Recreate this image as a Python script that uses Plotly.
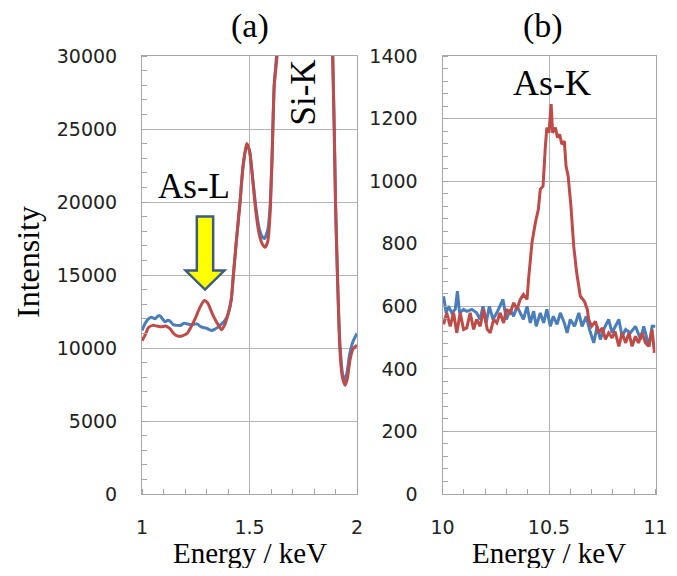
import plotly.graph_objects as go

# ---------------- data: panel (a) ----------------
red_a_x = [1.000, 1.015, 1.030, 1.050, 1.070, 1.090, 1.110, 1.130, 1.150, 1.170,
           1.190, 1.210, 1.230, 1.250, 1.270, 1.290, 1.305, 1.320, 1.335, 1.350,
           1.370, 1.385, 1.400, 1.415, 1.425, 1.440, 1.456, 1.470, 1.487, 1.500,
           1.515, 1.530, 1.545, 1.560, 1.572, 1.585, 1.595, 1.605, 1.615, 1.628,
           1.640, 1.700, 1.740, 1.800, 1.860, 1.887, 1.900, 1.909, 1.920, 1.932,
           1.945, 1.955, 1.967, 1.980, 2.000]
red_a_y = [10500, 10900, 11400, 11550, 11500, 11450, 11500, 11330, 10950, 10800,
           10850, 11000, 11500, 12100, 12800, 13250, 13100, 12600, 12100, 11700,
           11250, 11600, 12300, 13300, 15000, 17500, 20000, 22500, 24000, 23500,
           21500, 19300, 17800, 17100, 16900, 17300, 19000, 23000, 28000, 30000,
           36000, 60000, 80000, 60000, 38000, 30000, 20000, 15000, 10000, 8000,
           7450, 7900, 9150, 9900, 10200]

blue_a_x = [1.000, 1.015, 1.030, 1.045, 1.060, 1.075, 1.084, 1.095, 1.107, 1.120,
            1.130, 1.145, 1.161, 1.180, 1.195, 1.210, 1.230, 1.255, 1.275, 1.300,
            1.325, 1.340, 1.355, 1.370, 1.386, 1.400, 1.415, 1.425, 1.440, 1.456,
            1.470, 1.487, 1.500, 1.515, 1.530, 1.545, 1.560, 1.570, 1.585, 1.595,
            1.605, 1.615, 1.628, 1.640, 1.700, 1.740, 1.800, 1.860, 1.887, 1.900,
            1.909, 1.920, 1.932, 1.942, 1.952, 1.965, 1.980, 2.000]
blue_a_y = [11200, 11700, 12000, 12100, 12000, 12200, 12200, 12000, 11800, 11900,
            11850, 11600, 11550, 11550, 11700, 11650, 11600, 11650, 11450, 11350,
            11200, 11300, 11450, 11650, 11900, 12300, 13300, 15000, 17500, 20000,
            22400, 23900, 23500, 21600, 19600, 18200, 17600, 17500, 18100, 19500,
            23200, 28000, 30500, 36000, 60000, 80000, 60000, 38000, 30000, 20000,
            15000, 10500, 8300, 7800, 8200, 9500, 10400, 11000]

# ---------------- data: panel (b) ----------------
red_b_x = [10.005, 10.020, 10.036, 10.052, 10.067, 10.083, 10.099, 10.114, 10.130, 10.146,
           10.160, 10.177, 10.193, 10.210, 10.224, 10.240, 10.255, 10.270, 10.287, 10.300,
           10.318, 10.334, 10.350, 10.365, 10.380, 10.397, 10.404, 10.420, 10.436, 10.450,
           10.459, 10.472, 10.483, 10.490, 10.500, 10.510, 10.517, 10.530, 10.540, 10.550,
           10.560, 10.572, 10.580, 10.590, 10.603, 10.616, 10.630, 10.647, 10.666, 10.680,
           10.686, 10.700, 10.718, 10.733, 10.750, 10.765, 10.780, 10.796, 10.810, 10.828,
           10.843, 10.860, 10.875, 10.890, 10.906, 10.920, 10.937, 10.953, 10.969, 10.984,
           10.995]
red_b_y = [542, 579, 536, 579, 515, 579, 526, 531, 579, 526,
           558, 536, 590, 526, 515, 558, 547, 579, 547, 590,
           579, 611, 590, 622, 638, 622, 686, 803, 867, 910,
           974, 984, 1112, 1171, 1155, 1246, 1155, 1171, 1139, 1150,
           1118, 1128, 1048, 1016, 920, 792, 707, 632, 616, 590,
           558, 536, 552, 515, 531, 494, 515, 499, 520, 472,
           515, 483, 515, 472, 504, 483, 515, 483, 472, 526,
           451]

blue_b_x = [10.005, 10.017, 10.028, 10.044, 10.060, 10.070, 10.080, 10.099, 10.114, 10.138,
            10.160, 10.177, 10.190, 10.205, 10.220, 10.237, 10.255, 10.284, 10.300, 10.318,
            10.334, 10.350, 10.365, 10.380, 10.397, 10.412, 10.428, 10.440, 10.459, 10.475,
            10.490, 10.506, 10.520, 10.538, 10.553, 10.572, 10.585, 10.600, 10.620, 10.640,
            10.655, 10.675, 10.690, 10.710, 10.726, 10.741, 10.757, 10.780, 10.796, 10.810,
            10.828, 10.843, 10.860, 10.882, 10.906, 10.930, 10.945, 10.969, 10.984, 11.000]
blue_b_y = [632, 579, 600, 579, 590, 648, 579, 590, 584, 590,
            579, 558, 600, 547, 600, 558, 579, 622, 558, 590,
            568, 600, 579, 558, 600, 547, 584, 536, 579, 547,
            590, 536, 568, 542, 579, 547, 515, 558, 536, 579,
            536, 568, 526, 483, 536, 494, 526, 558, 515, 536,
            558, 504, 526, 515, 536, 494, 536, 472, 536, 536]

x_ticks_a = [1, 1.5, 2]
x_ticks_b = [10, 10.5, 11]

# arrow marking As-L (data units of panel a)
ARROW_X, ARROW_TOP, ARROW_HEAD, ARROW_TIP = 1.293, 19000, 15300, 14000
ARROW_SHAFT_HALF, ARROW_HEAD_HALF = 0.038, 0.090

BLUE = "#4A7EBB"
RED = "#BE4B48"
SERIF = "Liberation Serif"
SANS = "DejaVu Sans"

# page body has an 8px margin: build the figure 16px smaller, shifted by 8px
OFF = 8
W, H = 677 - 2 * OFF, 576 - 2 * OFF

def fx(px):
    return (px - OFF) / W

def fy(py):
    return 1 - (py - OFF) / H

fig = go.Figure()
fig.add_trace(go.Scatter(x=blue_a_x, y=blue_a_y, mode="lines", xaxis="x", yaxis="y",
                         line=dict(color=BLUE, width=3, shape="spline", smoothing=0.6)))
fig.add_trace(go.Scatter(x=red_a_x, y=red_a_y, mode="lines", xaxis="x", yaxis="y",
                         line=dict(color=RED, width=3, shape="spline", smoothing=0.6)))
fig.add_trace(go.Scatter(x=blue_b_x, y=blue_b_y, mode="lines", xaxis="x2", yaxis="y2",
                         line=dict(color=BLUE, width=3)))
fig.add_trace(go.Scatter(x=red_b_x, y=red_b_y, mode="lines", xaxis="x2", yaxis="y2",
                         line=dict(color=RED, width=3)))

GRID = "#b4b4b4"
LINE = "#a6a6a6"

def xaxis(domain, rng, ticks, anchor):
    return dict(domain=domain, range=rng, anchor=anchor, tickvals=ticks,
                ticktext=[f"{t:g}" for t in ticks], automargin=False,
                showgrid=True, gridcolor=GRID, gridwidth=1,
                showline=True, linecolor=LINE, linewidth=1, mirror=True,
                ticks="outside", ticklen=16, tickcolor="rgba(0,0,0,0)",
                tickfont=dict(family=SANS, size=19, color="#222"),
                minor=dict(ticks="inside", dtick=0.1, ticklen=5, tickcolor=LINE, showgrid=False),
                zeroline=False, fixedrange=True)

def yaxis(domain, rng, dtick, mdtick, anchor):
    return dict(domain=domain, range=rng, anchor=anchor, dtick=dtick, tickformat="d",
                automargin=False,
                showgrid=True, gridcolor=GRID, gridwidth=1,
                showline=True, linecolor=LINE, linewidth=1, mirror=True,
                ticks="outside", ticklen=20, tickcolor="rgba(0,0,0,0)",
                tickfont=dict(family=SANS, size=19, color="#222"),
                minor=dict(ticks="inside", dtick=mdtick, ticklen=5, tickcolor=LINE, showgrid=False),
                zeroline=False, fixedrange=True)

ydom = [fy(494), fy(56)]
fig.update_layout(
    width=W, height=H, autosize=False, margin=dict(l=0, r=0, t=0, b=0, pad=0),
    paper_bgcolor="white", plot_bgcolor="white", showlegend=False,
    xaxis=xaxis([fx(142), fx(357)], [1, 2], x_ticks_a, "y"),
    yaxis=yaxis(ydom, [0, 30000], 5000, 1000, "x"),
    xaxis2=xaxis([fx(442.5), fx(655.5)], [10, 11], x_ticks_b, "y2"),
    yaxis2=yaxis(ydom, [0, 1400], 200, 40, "x2"),
)

path = (f"M {ARROW_X - ARROW_SHAFT_HALF},{ARROW_TOP} L {ARROW_X + ARROW_SHAFT_HALF},{ARROW_TOP} "
        f"L {ARROW_X + ARROW_SHAFT_HALF},{ARROW_HEAD} L {ARROW_X + ARROW_HEAD_HALF},{ARROW_HEAD} "
        f"L {ARROW_X},{ARROW_TIP} L {ARROW_X - ARROW_HEAD_HALF},{ARROW_HEAD} "
        f"L {ARROW_X - ARROW_SHAFT_HALF},{ARROW_HEAD} Z")
fig.add_shape(type="path", path=path, xref="x", yref="y",
              fillcolor="#FFFF00", line=dict(color="#3D5A80", width=2.5))

def ann(text, x, y, xref, yref, size, angle=0):
    fig.add_annotation(text=text, x=x, y=y, xref=xref, yref=yref, showarrow=False,
                       textangle=angle, xanchor="center", yanchor="middle",
                       font=dict(family=SERIF, size=size, color="black"))

ann("(a)", fx(249.5), fy(26), "paper", "paper", 34)
ann("(b)", fx(542.5), fy(26), "paper", "paper", 34)
ann("Intensity", fx(28), fy(262), "paper", "paper", 32, -90)
ann("Energy / keV", fx(249.5), fy(553), "paper", "paper", 29)
ann("Energy / keV", fx(549), fy(553), "paper", "paper", 29)
ann("As-L", 1.242, 21075, "x", "y", 35)
ann("Si-K", 1.749, 27500, "x", "y", 35, -90)
ann("As-K", 10.514, 1313, "x2", "y2", 36)

fig.write_html("out.html")
